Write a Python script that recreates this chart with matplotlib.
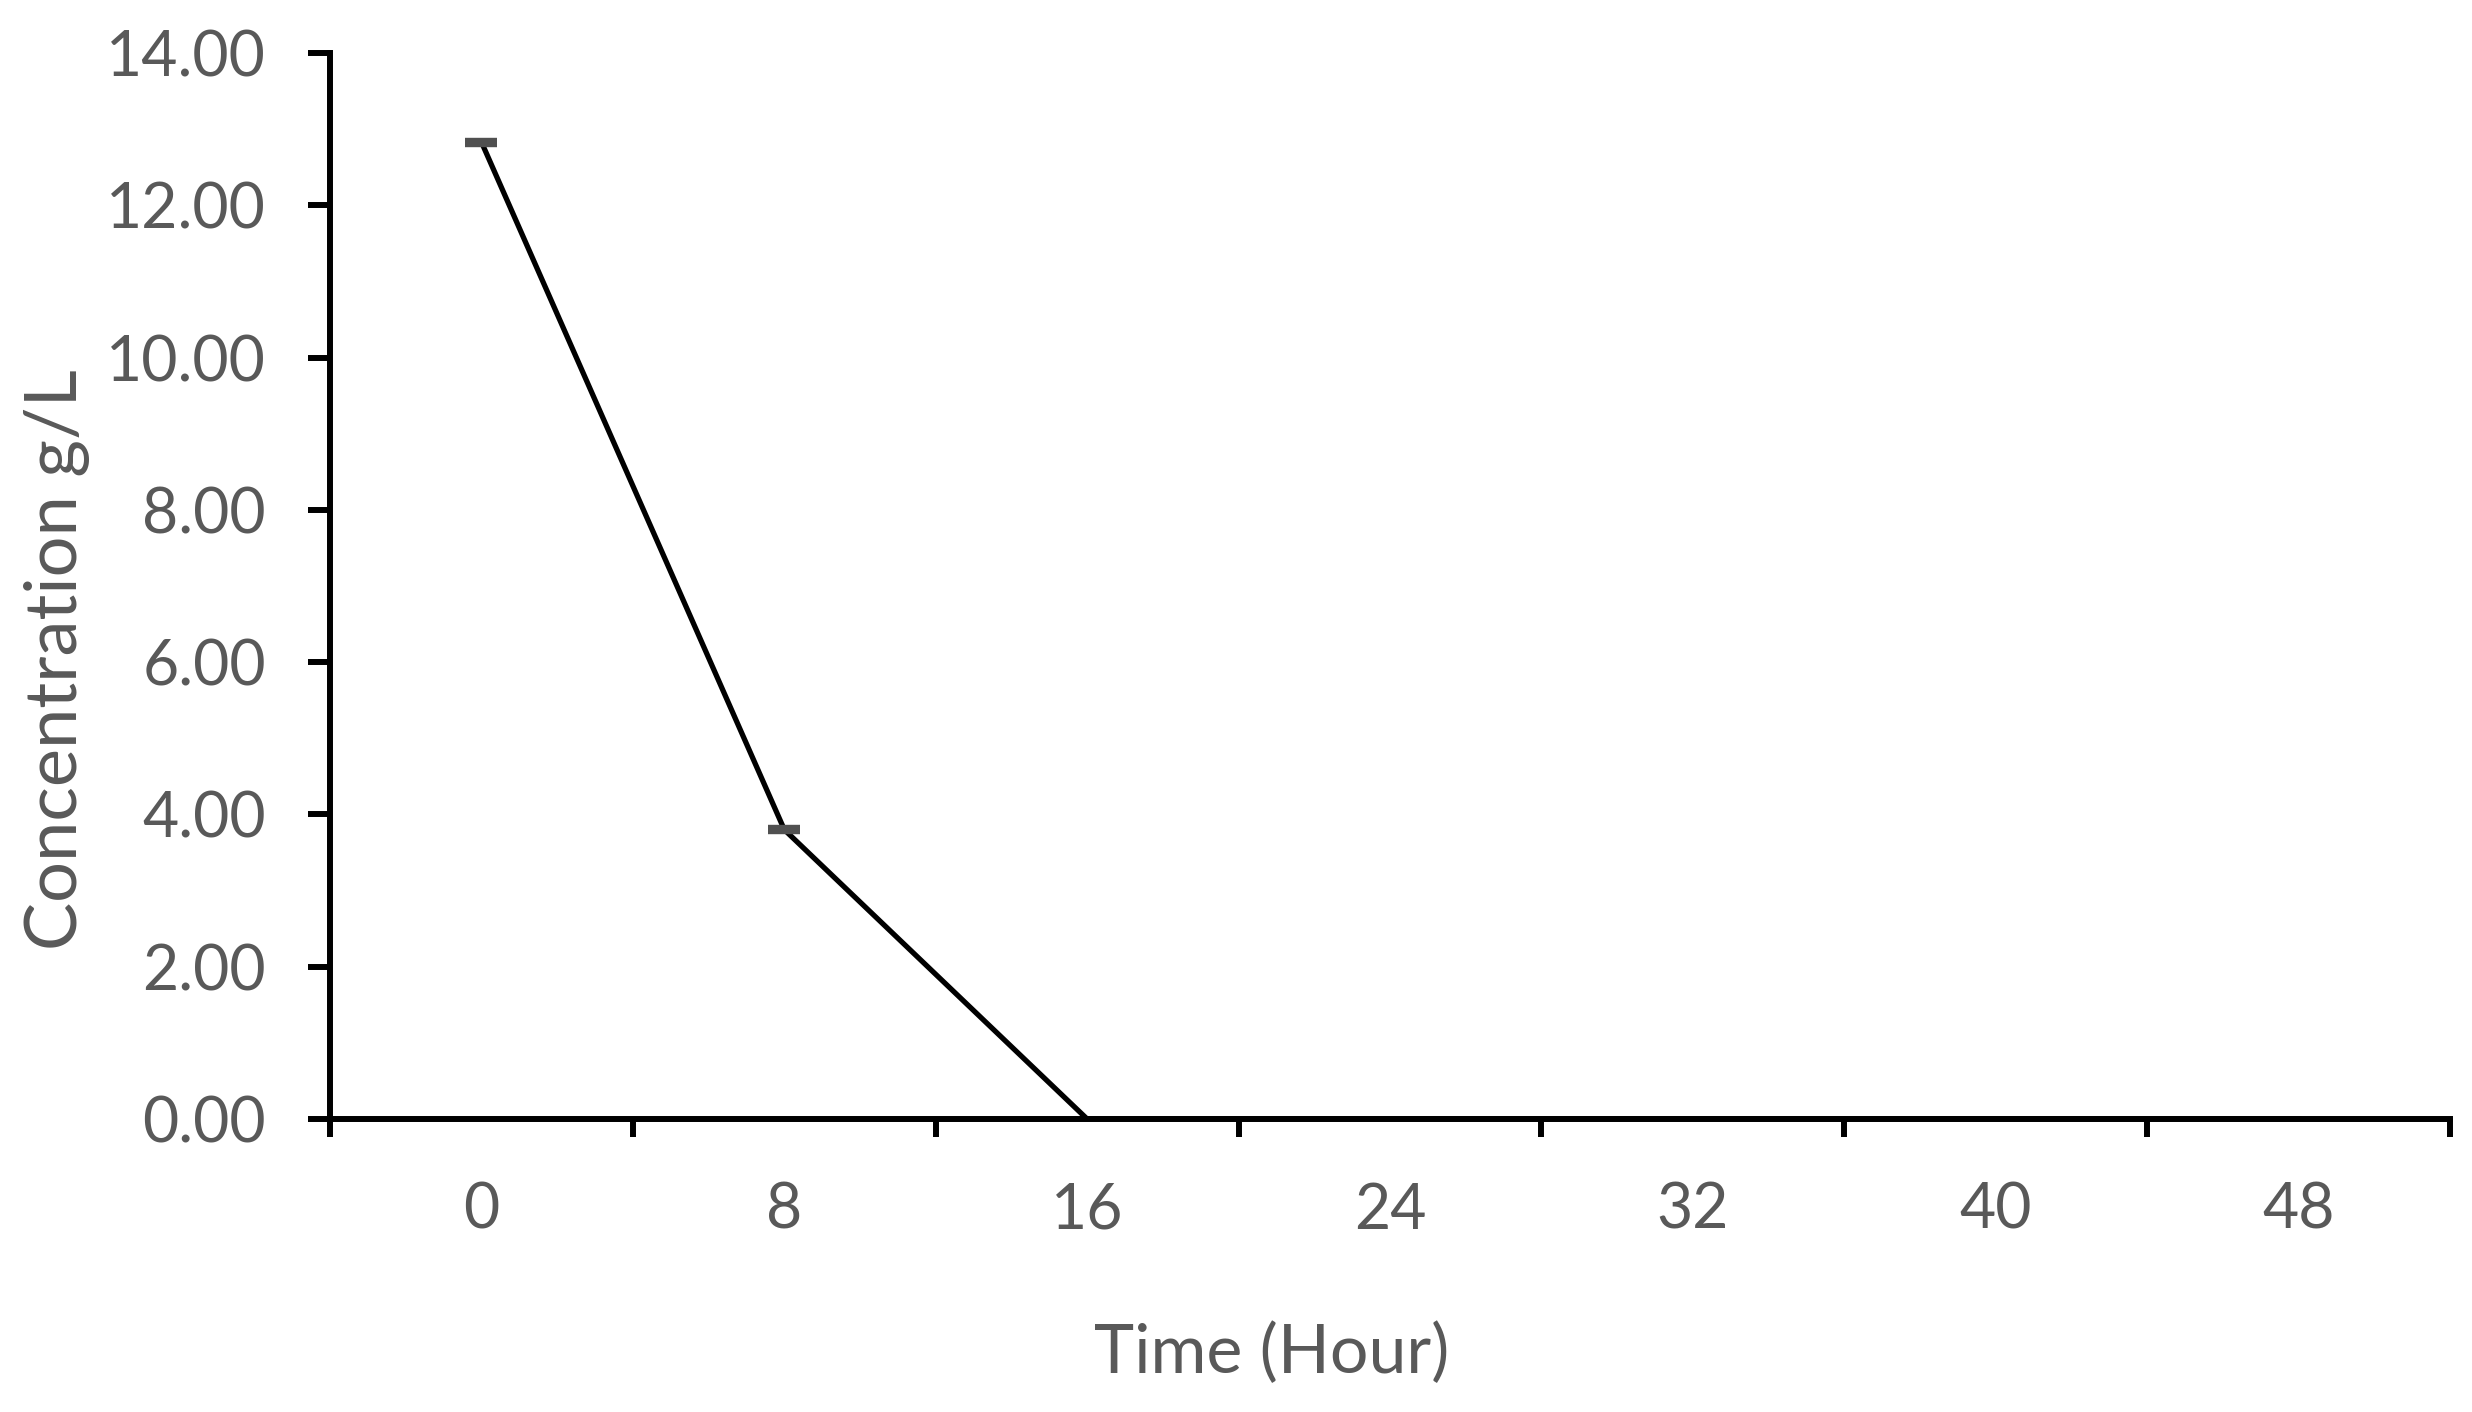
import matplotlib
matplotlib.use("Agg")
import matplotlib.pyplot as plt
import numpy as np

# values
time_labels = ["0", "8", "16", "24", "32", "40", "48"]
concentration = [12.83, 3.80, 0.0, 0.0, 0.0, 0.0, 0.0]
std_err = [0.02, 0.02, 0.0, 0.0, 0.0, 0.0, 0.0]
y_ticks = [0, 2, 4, 6, 8, 10, 12, 14]

text_grey = "#595959"
font = ["Lato", "DejaVu Sans"]

fig = plt.figure(figsize=(24.72, 14.12), dpi=100)
ax = fig.add_axes([0.1335, 0.2075, 0.8576, 0.7550])

x = np.arange(len(time_labels))
ax.plot(x, concentration, color="black", linewidth=3.8, zorder=3)
# only the first two points carry (very small) error bars
ax.errorbar(x[:2], concentration[:2], yerr=std_err[:2], fmt="none",
            ecolor="#505050", elinewidth=2, capsize=11.5, capthick=4.6, zorder=4)

ax.set_xlim(-0.5, len(time_labels) - 0.5)
ax.set_ylim(0, 14)

# category axis like Excel: tick marks between categories, labels centred
ax.set_xticks(np.arange(-0.5, len(time_labels), 1.0))
ax.set_xticklabels([])
ax.set_xticks(x, minor=True)
ax.set_xticklabels(time_labels, minor=True)
ax.tick_params(axis="x", which="minor", length=0, pad=45)
ax.tick_params(axis="x", which="major", direction="out", length=13, width=4.3)

ax.set_yticks(y_ticks)
ax.set_yticklabels([f"{v:.2f}" for v in y_ticks])
ax.tick_params(axis="y", direction="out", length=16, width=4.3, pad=30)

for lab in ax.get_xticklabels(minor=True) + ax.get_yticklabels():
    lab.set_fontsize(45)
    lab.set_color(text_grey)
    lab.set_family(font)

for side in ["top", "right"]:
    ax.spines[side].set_visible(False)
for side in ["left", "bottom"]:
    ax.spines[side].set_linewidth(4.3)
    ax.spines[side].set_color("black")

ax.set_xlabel("Time (Hour)", fontsize=49, color=text_grey, family=font, va="baseline")
ax.xaxis.set_label_coords(0.444, -0.2383)
ax.set_ylabel("Concentration g/L", fontsize=52, color=text_grey, family=font)
ax.yaxis.set_label_coords(-0.1132, 0.431)

fig.savefig("out.png", dpi=100)
